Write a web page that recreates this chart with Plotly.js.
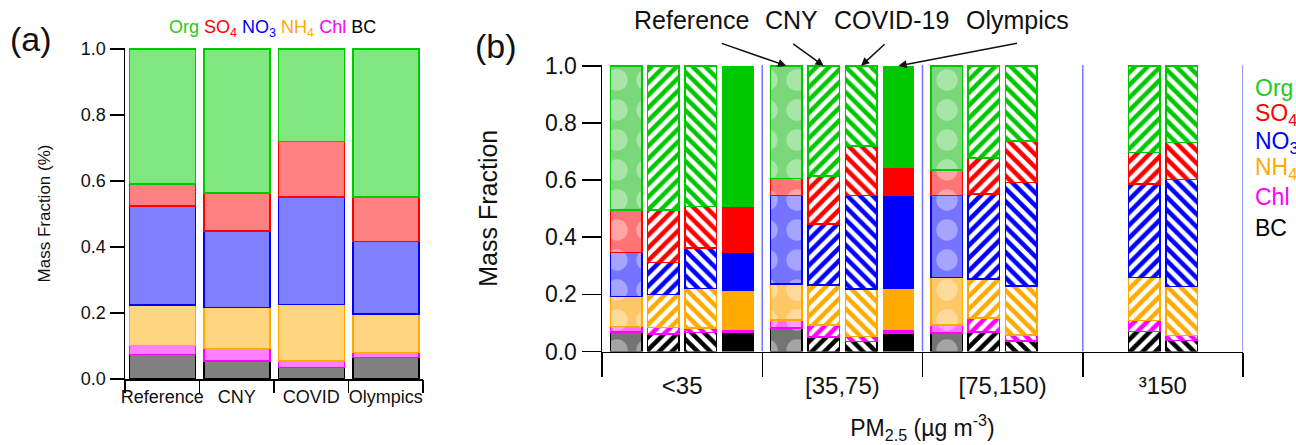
<!DOCTYPE html>
<html><head><meta charset="utf-8">
<script src="https://cdn.plot.ly/plotly-3.0.1.min.js"></script>
<style>html,body{margin:0;padding:0;background:#fff}#chart{width:1296px;height:445px}</style>
</head><body><div id="chart"></div>
<script>
// ---------------- DATA ----------------
// Panel (a): mean mass fractions by period
const periods = ['Reference', 'CNY', 'COVID', 'Olympics'];
const aOrg = [0.409, 0.437, 0.281, 0.449];
const aSO4 = [0.067, 0.115, 0.168, 0.135];
const aNO3 = [0.299, 0.232, 0.325, 0.219];
const aNH4 = [0.124, 0.124, 0.172, 0.116];
const aChl = [0.026, 0.037, 0.019, 0.016];
const aBC  = [0.075, 0.055, 0.035, 0.065];

// Panel (b): mass fractions by PM2.5 bin, per period
const pmBins = ['<35', '[35,75)', '[75,150)', '³150'];
const scenarios = ['Reference', 'CNY', 'COVID-19', 'Olympics'];
const refOrg = [0.505, 0.394, 0.365, null];
const refSO4 = [0.149, 0.060, 0.089, null];
const refNO3 = [0.154, 0.309, 0.287, null];
const refNH4 = [0.105, 0.126, 0.166, null];
const refChl = [0.018, 0.029, 0.029, null];
const refBC  = [0.069, 0.082, 0.064, null];

const cnyOrg = [0.505, 0.386, 0.322, 0.303];
const cnySO4 = [0.184, 0.167, 0.127, 0.111];
const cnyNO3 = [0.111, 0.214, 0.298, 0.327];
const cnyNH4 = [0.116, 0.140, 0.136, 0.151];
const cnyChl = [0.022, 0.043, 0.049, 0.038];
const cnyBC  = [0.062, 0.050, 0.068, 0.070];

const covOrg = [0.493, 0.280, 0.263, 0.269];
const covSO4 = [0.145, 0.174, 0.146, 0.128];
const covNO3 = [0.142, 0.327, 0.361, 0.376];
const covNH4 = [0.138, 0.167, 0.172, 0.171];
const covChl = [0.016, 0.017, 0.021, 0.018];
const covBC  = [0.066, 0.035, 0.037, 0.038];

const olyOrg = [0.493, 0.357, null, null];
const olySO4 = [0.163, 0.097, null, null];
const olyNO3 = [0.131, 0.328, null, null];
const olyNH4 = [0.137, 0.142, null, null];
const olyChl = [0.012, 0.015, null, null];
const olyBC  = [0.064, 0.061, null, null];

const species = ['BC', 'Chl', 'NH4', 'NO3', 'SO4', 'Org']; // stacking order (bottom → top)
const speciesLabel = {Org:'Org', SO4:'SO<sub>4</sub>', NO3:'NO<sub>3</sub>', NH4:'NH<sub>4</sub>', Chl:'Chl', BC:'BC'};

// ---------------- STYLE ----------------
const W = 1296, H = 445;
const FONT = 'Liberation Sans, Arial, sans-serif';
const dark  = {Org:'#00c800', SO4:'#ff0000', NO3:'#0000ff', NH4:'#ffaa00', Chl:'#ff00ff', BC:'#000000'};
const light = {Org:'#80e680', SO4:'#ff8080', NO3:'#8080ff', NH4:'#ffd580', Chl:'#ff80ff', BC:'#808080'};
const tint  = {Org:'#7ad87a', SO4:'#ff7474', NO3:'#7474ff', NH4:'#ffc866', Chl:'#ff6cff', BC:'#747474'};

const aData = {Org:aOrg, SO4:aSO4, NO3:aNO3, NH4:aNH4, Chl:aChl, BC:aBC};
const bData = [
  {Org:refOrg, SO4:refSO4, NO3:refNO3, NH4:refNH4, Chl:refChl, BC:refBC},
  {Org:cnyOrg, SO4:cnySO4, NO3:cnyNO3, NH4:cnyNH4, Chl:cnyChl, BC:cnyBC},
  {Org:covOrg, SO4:covSO4, NO3:covNO3, NH4:covNH4, Chl:covChl, BC:covBC},
  {Org:olyOrg, SO4:olySO4, NO3:olyNO3, NH4:olyNH4, Chl:olyChl, BC:olyBC}
];
const slotOffset = [-0.35, -0.1167, 0.1167, 0.35];

const traces = [];
// Panel (a)
species.forEach(sp => {
  traces.push({
    type:'bar', xaxis:'x', yaxis:'y',
    x: periods.map((_, i) => i), y: aData[sp], width: 0.886,
    marker:{color: light[sp], line:{color: dark[sp], width: 1.5}},
    showlegend:false, hoverinfo:'skip'
  });
});
// Panel (b)
bData.forEach((d, s) => {
  species.forEach(sp => {
    let marker;
    if (s === 0) {
      marker = {color: tint[sp], line:{color: dark[sp], width:1.5},
        pattern:{shape:'.', fillmode:'overlay', bgcolor: tint[sp], fgcolor:'rgba(255,255,255,0.7)', size: 30, solidity: 0.4}};
    } else if (s === 1 || s === 2) {
      marker = {color: dark[sp], line:{color: dark[sp], width:1.5},
        pattern:{shape: s === 1 ? '/' : '\\', fillmode:'replace', fgcolor: dark[sp], bgcolor:'#ffffff', size: 9, solidity: 0.5}};
    } else {
      marker = {color: dark[sp], line:{color: dark[sp], width:0}};
    }
    traces.push({
      type:'bar', xaxis:'x2', yaxis:'y2',
      x: pmBins.map((_, i) => i + slotOffset[s]), y: d[sp], width: 0.197,
      marker: marker, showlegend:false, hoverinfo:'skip'
    });
  });
});
// empty traces so the overlay (boundary-tick) axes get drawn
traces.push({type:'scatter', mode:'markers', x:[], y:[], xaxis:'x3', yaxis:'y', showlegend:false, hoverinfo:'skip'});
traces.push({type:'scatter', mode:'markers', x:[], y:[], xaxis:'x4', yaxis:'y2', showlegend:false, hoverinfo:'skip'});

const tickFontA = {family: FONT, size: 18, color:'#111'};
const tickFontB = {family: FONT, size: 23, color:'#111'};
const yTicks = [0, 0.2, 0.4, 0.6, 0.8, 1.0];

const layout = {
  width: W, height: H,
  margin:{l:0, r:0, t:0, b:0},
  paper_bgcolor:'#fff', plot_bgcolor:'rgba(0,0,0,0)',
  barmode:'stack', showlegend:false,
  font:{family: FONT, color:'#111'},
  xaxis:{domain:[125/W, 423/W], anchor:'y', range:[-0.5, 3.5],
    tickvals:[0,1,2,3], ticktext: periods, ticks:'', tickfont: tickFontA, ticklabelstandoff: 1,
    showline:true, linecolor:'#000', linewidth:1.5, showgrid:false, zeroline:false},
  xaxis3:{overlaying:'x', anchor:'y', range:[-0.5, 3.5],
    tickvals:[-0.5, 0.5, 1.5, 2.5, 3.5], showticklabels:false, ticks:'outside', ticklen:13, tickwidth:1.5, tickcolor:'#000',
    showline:false, showgrid:false, zeroline:false},
  yaxis:{domain:[1-379/H, 1-48/H], anchor:'x', range:[0, 1.003],
    tickvals: yTicks, tickformat:'.1f', ticks:'outside', ticklen:14, tickwidth:1.5, tickcolor:'#000', tickfont: tickFontA,
    showline:true, linecolor:'#000', linewidth:1.5, showgrid:false, zeroline:false,
    title:{text:'Mass Fraction (%)', font:{family: FONT, size:17, color:'#111'}, standoff: 26}},
  xaxis2:{domain:[602/W, 1243/W], anchor:'y2', range:[-0.5, 3.5],
    tickvals:[0,1,2,3], ticktext: pmBins, ticks:'', tickfont: {family: FONT, size: 24, color:'#111'}, ticklabelstandoff: 12,
    showline:true, linecolor:'#000', linewidth:1.5, showgrid:false, zeroline:false,
    title:{text:'PM<sub>2.5</sub> (µg m<sup>-3</sup>)', font:{family: FONT, size:23, color:'#111'}, standoff: 22}},
  xaxis4:{overlaying:'x2', anchor:'y2', range:[-0.5, 3.5],
    tickvals:[-0.5, 0.5, 1.5, 2.5, 3.5], showticklabels:false, ticks:'outside', ticklen:24, tickwidth:1.5, tickcolor:'#000',
    showline:false, showgrid:false, zeroline:false},
  yaxis2:{domain:[1-351.5/H, 1-65/H], anchor:'x2', range:[0, 1.003],
    tickvals: yTicks, tickformat:'.1f', ticks:'outside', ticklen:19, tickwidth:1.5, tickcolor:'#000', tickfont: tickFontB,
    showline:true, linecolor:'#000', linewidth:1.5, showgrid:false, zeroline:false,
    title:{text:'Mass Fraction', font:{family: FONT, size:25, color:'#111'}, standoff: 40}},
  shapes: [0.5, 1.5, 2.5, 3.5].map(v => ({type:'line', xref:'x2', yref:'y2', x0:v, x1:v, y0:0, y1:1.003,
    line:{color:'#7474ff', width:1.5}, layer:'below'})),
  annotations: []
};

const ann = layout.annotations;
ann.push({text:'(a)', xref:'paper', yref:'paper', x:8/W, y:1-39/H, xanchor:'left', yanchor:'middle', showarrow:false,
  font:{family: FONT, size:34, color:'#111'}});
ann.push({text:'(b)', xref:'paper', yref:'paper', x:473/W, y:1-46/H, xanchor:'left', yanchor:'middle', showarrow:false,
  font:{family: FONT, size:34, color:'#111'}});
// panel (a) legend line
const legA = ['Org','SO4','NO3','NH4','Chl','BC'].map(sp =>
  '<span style="color:' + (sp === 'Org' ? '#22cc22' : dark[sp]) + '">' + speciesLabel[sp] + '</span>').join(' ');
ann.push({text: legA, xref:'paper', yref:'paper', x:272/W, y:1-29/H, xanchor:'center', yanchor:'middle', showarrow:false,
  font:{family: FONT, size:18}});
// panel (b) legend column
const legBy = [88, 115, 142, 169, 197, 228];
['Org','SO4','NO3','NH4','Chl','BC'].forEach((sp, i) => {
  ann.push({text: speciesLabel[sp], xref:'paper', yref:'paper', x:1253/W, y:1-legBy[i]/H, xanchor:'left', yanchor:'middle',
    showarrow:false, font:{family: FONT, size:23, color: sp === 'Org' ? '#22cc22' : dark[sp]}});
});
// scenario labels + arrows pointing to the [35,75) bars
const labelX = [691, 791, 892, 1017];
const arrowTail = [[-66, -23], [-32, -23], [25, -23], [120, -23]];
scenarios.forEach((s, k) => {
  ann.push({text: s, xref:'paper', yref:'paper', x: labelX[k]/W, y: 1-20/H, xanchor:'center', yanchor:'middle',
    showarrow:false, font:{family: FONT, size:25, color:'#111'}});
  ann.push({text:'', xref:'x2', yref:'y2', x: 1 + slotOffset[k], y: 1.0, showarrow:true,
    ax: arrowTail[k][0], ay: arrowTail[k][1], axref:'pixel', ayref:'pixel',
    arrowhead:2, arrowsize:1.1, arrowwidth:1.5, arrowcolor:'#111', standoff:0});
});

Plotly.newPlot('chart', traces, layout, {staticPlot:true, displayModeBar:false});
</script>
</body></html>
